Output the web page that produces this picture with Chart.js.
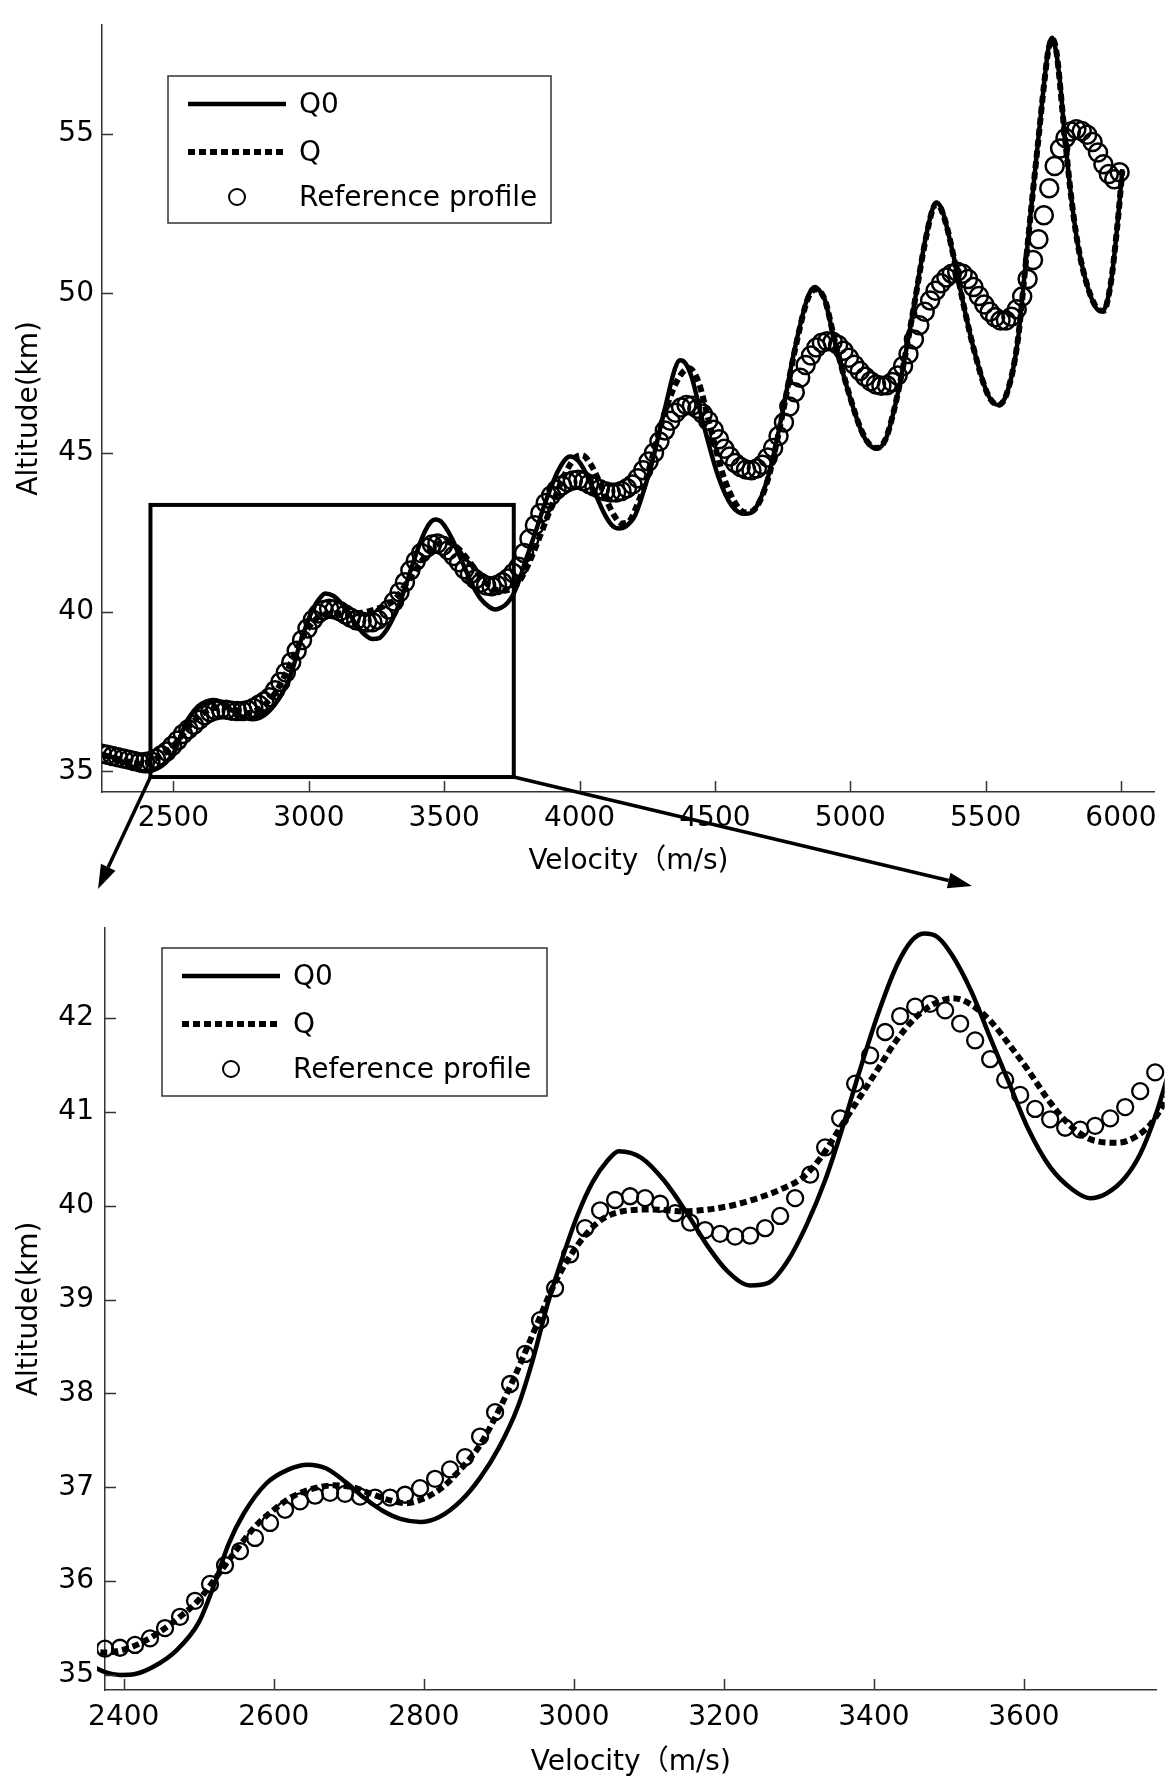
<!DOCTYPE html>
<html>
<head>
<meta charset="utf-8">
<script src="https://cdn.jsdelivr.net/npm/chart.js@4.4.0/dist/chart.umd.min.js"></script>
<style>
  html, body { margin: 0; padding: 0; background: #fff; }
  canvas { display: block; }
</style>
</head>
<body>
<canvas id="overview" width="1167" height="900"></canvas>
<canvas id="detail" width="1167" height="879"></canvas>
<script>
// Q0 trajectory (solid)
const q0Velocity = [
  2236, 2280, 2320, 2350, 2375, 2395, 2415, 2440, 2470, 2500,
  2520, 2540, 2560, 2590, 2620, 2645, 2670, 2695, 2720, 2745,
  2770, 2795, 2820, 2850, 2875, 2900, 2925, 2945, 2965, 2985,
  3005, 3025, 3045, 3060, 3090, 3120, 3150, 3180, 3205, 3235,
  3260, 3285, 3310, 3335, 3355, 3380, 3405, 3430, 3450, 3467,
  3485, 3505, 3530, 3555, 3580, 3605, 3635, 3665, 3688, 3710,
  3735, 3755, 3775, 3800, 3837, 3874, 3923, 3965, 3995, 4021,
  4046, 4095, 4120, 4145, 4170, 4205, 4237, 4267, 4316, 4353,
  4371, 4390, 4415, 4451, 4512, 4562, 4612, 4648, 4697, 4746,
  4795, 4844, 4869, 4890, 4906, 4943, 4992, 5040, 5070, 5099,
  5130, 5164, 5201, 5237, 5274, 5305, 5317, 5335, 5348, 5385,
  5422, 5459, 5508, 5545, 5581, 5618, 5643, 5667, 5692, 5717,
  5732, 5745, 5760, 5775, 5790, 5815, 5840, 5876, 5913, 5932,
  5962, 5985, 6005
];
const q0Altitude = [
  35.55, 35.42, 35.27, 35.13, 35.03, 35.00, 35.01, 35.09, 35.26, 35.56,
  35.95, 36.40, 36.72, 37.04, 37.19, 37.24, 37.20, 37.06, 36.89, 36.75,
  36.66, 36.63, 36.68, 36.86, 37.10, 37.42, 37.85, 38.35, 38.95, 39.45,
  39.90, 40.25, 40.48, 40.58, 40.51, 40.27, 39.93, 39.55, 39.30, 39.15,
  39.18, 39.41, 39.79, 40.27, 40.75, 41.41, 42.03, 42.55, 42.82, 42.90,
  42.86, 42.66, 42.28, 41.79, 41.31, 40.83, 40.41, 40.17, 40.08, 40.13,
  40.30, 40.55, 40.95, 41.60, 42.50, 43.45, 44.47, 44.88, 44.75, 44.40,
  43.95, 43.03, 42.72, 42.62, 42.68, 43.03, 43.80, 44.67, 46.41, 47.65,
  47.90, 47.82, 47.35, 46.11, 44.26, 43.34, 43.08, 43.23, 44.26, 46.11,
  48.26, 49.90, 50.20, 50.05, 49.80, 48.47, 46.93, 45.70, 45.25, 45.13,
  45.40, 46.42, 47.96, 49.70, 51.55, 52.68, 52.85, 52.70, 52.37, 51.03,
  49.50, 48.16, 46.83, 46.50, 46.93, 48.47, 50.52, 52.58, 54.63, 56.68,
  57.70, 58.02, 57.60, 56.60, 55.15, 53.10, 51.56, 50.23, 49.50, 49.45,
  50.30, 52.00, 53.90
];

// Q trajectory (dotted)
const qVelocity = [
  2236, 2290, 2340, 2375, 2400, 2425, 2450, 2475, 2500, 2525,
  2550, 2575, 2600, 2625, 2650, 2680, 2705, 2730, 2755, 2775,
  2800, 2825, 2850, 2875, 2900, 2925, 2950, 2975, 3005, 3035,
  3065, 3105, 3145, 3180, 3215, 3245, 3275, 3305, 3330, 3355,
  3380, 3405, 3430, 3455, 3480, 3505, 3530, 3555, 3580, 3605,
  3635, 3665, 3695, 3725, 3750, 3770, 3800, 3850, 3900, 3950,
  3985, 4010, 4040, 4070, 4100, 4130, 4155, 4180, 4210, 4240,
  4270, 4320, 4370, 4405, 4440, 4480, 4530, 4580, 4615, 4650,
  4697, 4746, 4795, 4844, 4872, 4906, 4943, 4992, 5040, 5070,
  5100, 5130, 5164, 5201, 5237, 5274, 5305, 5320, 5348, 5385,
  5422, 5459, 5508, 5548, 5581, 5618, 5643, 5667, 5692, 5717,
  5732, 5747, 5762, 5790, 5815, 5840, 5876, 5913, 5935, 5962,
  5985, 6005
];
const qAltitude = [
  35.52, 35.40, 35.29, 35.24, 35.27, 35.35, 35.47, 35.62, 35.80, 36.06,
  36.33, 36.58, 36.76, 36.90, 36.98, 37.02, 37.00, 36.93, 36.86, 36.83,
  36.88, 37.00, 37.20, 37.45, 37.82, 38.25, 38.72, 39.18, 39.58, 39.84,
  39.94, 39.96, 39.94, 39.96, 40.01, 40.08, 40.17, 40.30, 40.52, 40.83,
  41.14, 41.45, 41.76, 42.00, 42.15, 42.21, 42.14, 41.97, 41.72, 41.45,
  41.10, 40.83, 40.69, 40.67, 40.74, 40.88, 41.30, 42.30, 43.40, 44.40,
  44.85, 44.92, 44.65, 44.15, 43.50, 43.00, 42.78, 42.82, 43.30, 44.00,
  44.90, 46.40, 47.40, 47.65, 47.20, 45.90, 44.30, 43.35, 43.12, 43.25,
  44.20, 46.05, 48.20, 49.85, 50.12, 49.80, 48.50, 46.95, 45.72, 45.27,
  45.15, 45.42, 46.42, 47.96, 49.68, 51.50, 52.65, 52.82, 52.35, 51.03,
  49.50, 48.16, 46.83, 46.50, 46.93, 48.47, 50.50, 52.55, 54.60, 56.65,
  57.65, 57.98, 57.55, 55.15, 53.10, 51.56, 50.23, 49.52, 49.45, 50.30,
  52.00, 53.85
];

// Reference profile (circles)
const refVelocity = [
  2235, 2255, 2275, 2295, 2315, 2335, 2355, 2375, 2395, 2415,
  2435, 2455, 2475, 2495, 2515, 2535, 2555, 2575, 2595, 2615,
  2635, 2655, 2675, 2695, 2715, 2735, 2755, 2775, 2795, 2815,
  2835, 2855, 2875, 2895, 2915, 2935, 2955, 2975, 2995, 3015,
  3035, 3055, 3075, 3095, 3115, 3135, 3155, 3175, 3195, 3215,
  3235, 3255, 3275, 3295, 3315, 3335, 3355, 3375, 3395, 3415,
  3435, 3455, 3475, 3495, 3515, 3535, 3555, 3575, 3595, 3615,
  3635, 3655, 3675, 3695, 3715, 3735, 3755, 3775, 3795, 3815,
  3835, 3855, 3875, 3895, 3915, 3935, 3955, 3975, 3995, 4015,
  4035, 4055, 4075, 4095, 4115, 4135, 4155, 4175, 4195, 4215,
  4235, 4255, 4275, 4295, 4315, 4335, 4355, 4375, 4395, 4415,
  4435, 4455, 4475, 4495, 4515, 4535, 4555, 4575, 4595, 4615,
  4635, 4655, 4675, 4695, 4715, 4735, 4755, 4775, 4795, 4815,
  4835, 4855, 4875, 4895, 4915, 4935, 4955, 4975, 4995, 5015,
  5035, 5055, 5075, 5095, 5115, 5135, 5155, 5175, 5195, 5215,
  5235, 5255, 5275, 5295, 5315, 5335, 5355, 5375, 5395, 5415,
  5435, 5455, 5475, 5495, 5515, 5535, 5555, 5575, 5595, 5615,
  5635, 5655, 5675, 5695, 5715, 5735, 5755, 5775, 5795, 5815,
  5835, 5855, 5875, 5895, 5915, 5935, 5955, 5975, 5995
];
const refAltitude = [
  35.55, 35.52, 35.48, 35.44, 35.40, 35.36, 35.32, 35.28, 35.29, 35.32,
  35.39, 35.50, 35.62, 35.79, 35.97, 36.17, 36.32, 36.46, 36.62, 36.76,
  36.85, 36.91, 36.94, 36.93, 36.90, 36.89, 36.89, 36.92, 36.99, 37.09,
  37.19, 37.32, 37.54, 37.80, 38.10, 38.42, 38.78, 39.12, 39.48, 39.76,
  39.95, 40.06, 40.10, 40.08, 40.02, 39.92, 39.82, 39.74, 39.70, 39.67,
  39.68, 39.76, 39.89, 40.08, 40.33, 40.62, 40.93, 41.30, 41.60, 41.85,
  42.02, 42.12, 42.15, 42.08, 41.94, 41.76, 41.56, 41.34, 41.18, 41.03,
  40.92, 40.83, 40.81, 40.85, 40.93, 41.05, 41.22, 41.42, 41.85, 42.30,
  42.72, 43.10, 43.42, 43.66, 43.84, 43.97, 44.07, 44.13, 44.15, 44.10,
  44.02, 43.93, 43.85, 43.79, 43.75, 43.75, 43.80, 43.88, 44.00, 44.20,
  44.45, 44.72, 45.00, 45.35, 45.70, 46.00, 46.25, 46.42, 46.50, 46.47,
  46.38, 46.22, 46.00, 45.72, 45.42, 45.12, 44.88, 44.68, 44.55, 44.47,
  44.45, 44.50, 44.62, 44.85, 45.15, 45.52, 45.95, 46.45, 46.90, 47.35,
  47.75, 48.05, 48.30, 48.45, 48.50, 48.48, 48.38, 48.20, 47.98, 47.76,
  47.56, 47.38, 47.24, 47.14, 47.10, 47.12, 47.22, 47.42, 47.72, 48.10,
  48.55, 49.00, 49.42, 49.78, 50.08, 50.32, 50.50, 50.62, 50.68, 50.62,
  50.45, 50.20, 49.92, 49.65, 49.42, 49.25, 49.15, 49.15, 49.27, 49.50,
  49.90, 50.45, 51.05, 51.70, 52.45, 53.30, 54.00, 54.55, 54.88, 55.08,
  55.15, 55.10, 54.98, 54.75, 54.42, 54.05, 53.75, 53.58, 53.80
];

// tick labels
const overviewVelocityTicks = [2500, 3000, 3500, 4000, 4500, 5000, 5500, 6000];
const overviewAltitudeTicks = [35, 40, 45, 50, 55];
const detailVelocityTicks = [2400, 2600, 2800, 3000, 3200, 3400, 3600];
const detailAltitudeTicks = [35, 36, 37, 38, 39, 40, 41, 42];

// zoomed window marked on the overview
const zoomBoxVelocity = [2415, 3757];
const zoomBoxAltitude = [34.82, 43.36];

const axisColor = '#333';
const fontFamily = '"DejaVu Sans", "Noto Sans CJK SC", sans-serif';
Chart.defaults.font.family = fontFamily;
Chart.defaults.font.size = 28;
Chart.defaults.color = '#000';

function seriesPoints(xs, ys) {
  return xs.map((v, i) => ({ x: v, y: ys[i] }));
}

function makeDatasets(markerRadius, markerBorder, clip) {
  return [
    {
      label: 'Q0',
      data: seriesPoints(q0Velocity, q0Altitude),
      borderColor: '#000',
      borderWidth: 4.5,
      pointRadius: 0,
      cubicInterpolationMode: 'monotone',
      fill: false,
      clip: clip,
      order: 3
    },
    {
      label: 'Q',
      data: seriesPoints(qVelocity, qAltitude),
      borderColor: '#000',
      borderWidth: 6,
      borderDash: [7, 4],
      borderCapStyle: 'butt',
      pointRadius: 0,
      cubicInterpolationMode: 'monotone',
      fill: false,
      clip: clip,
      order: 2
    },
    {
      label: 'Reference profile',
      data: seriesPoints(refVelocity, refAltitude),
      showLine: false,
      pointStyle: 'circle',
      pointRadius: markerRadius,
      pointBorderWidth: markerBorder,
      pointBorderColor: '#000',
      pointBackgroundColor: 'rgba(0,0,0,0)',
      clip: clip,
      order: 1
    }
  ];
}

// MATLAB-style ticks pointing into the plot
const inwardTicks = {
  id: 'inwardTicks',
  afterDraw(chart) {
    const { ctx, chartArea, scales } = chart;
    const len = 11;
    ctx.save();
    ctx.strokeStyle = axisColor;
    ctx.lineWidth = 1.5;
    scales.x.ticks.forEach(t => {
      const px = Math.round(scales.x.getPixelForValue(t.value)) + 0.5;
      ctx.beginPath();
      ctx.moveTo(px, chartArea.bottom);
      ctx.lineTo(px, chartArea.bottom - len);
      ctx.stroke();
    });
    scales.y.ticks.forEach(t => {
      const py = Math.round(scales.y.getPixelForValue(t.value)) + 0.5;
      ctx.beginPath();
      ctx.moveTo(chartArea.left, py);
      ctx.lineTo(chartArea.left + len, py);
      ctx.stroke();
    });
    ctx.restore();
  }
};

// boxed legend inside the plot
const boxLegend = {
  id: 'boxLegend',
  afterDraw(chart, args, opts) {
    if (!opts || opts.left === undefined) return;
    const { ctx } = chart;
    const ds = chart.data.datasets;
    const rows = [28, 76, 121];
    ctx.save();
    ctx.fillStyle = '#fff';
    ctx.fillRect(opts.left, opts.top, opts.width, opts.height);
    ctx.strokeStyle = axisColor;
    ctx.lineWidth = 1.5;
    ctx.strokeRect(opts.left, opts.top, opts.width, opts.height);
    ctx.font = '28px ' + fontFamily;
    ctx.textBaseline = 'middle';
    ctx.fillStyle = '#000';
    ds.forEach((d, i) => {
      const y = opts.top + rows[i];
      ctx.strokeStyle = '#000';
      if (d.showLine === false) {
        ctx.lineWidth = 2;
        ctx.beginPath();
        ctx.arc(opts.left + 69, y, 8, 0, Math.PI * 2);
        ctx.stroke();
      } else {
        ctx.lineWidth = d.borderWidth;
        ctx.lineCap = 'butt';
        ctx.setLineDash(d.borderDash || []);
        ctx.beginPath();
        ctx.moveTo(opts.left + 20, y);
        ctx.lineTo(opts.left + 118, y);
        ctx.stroke();
        ctx.setLineDash([]);
      }
      ctx.fillText(d.label, opts.left + 131, y + 2);
    });
    ctx.restore();
  }
};

function drawArrow(ctx, x0, y0, x1, y1) {
  const ang = Math.atan2(y1 - y0, x1 - x0);
  const head = 24, half = 8;
  const bx = x1 - head * Math.cos(ang), by = y1 - head * Math.sin(ang);
  ctx.beginPath();
  ctx.moveTo(x0, y0);
  ctx.lineTo(bx, by);
  ctx.stroke();
  ctx.beginPath();
  ctx.moveTo(x1, y1);
  ctx.lineTo(bx + half * Math.sin(ang), by - half * Math.cos(ang));
  ctx.lineTo(bx - half * Math.sin(ang), by + half * Math.cos(ang));
  ctx.closePath();
  ctx.fill();
}

// rectangle around the zoomed window plus arrows to the detail plot
const zoomMarker = {
  id: 'zoomMarker',
  afterDraw(chart, args, opts) {
    if (!opts || !opts.leftTip) return;
    const { ctx, scales: { x, y } } = chart;
    const l = x.getPixelForValue(zoomBoxVelocity[0]);
    const r = x.getPixelForValue(zoomBoxVelocity[1]);
    const t = y.getPixelForValue(zoomBoxAltitude[1]);
    const b = y.getPixelForValue(zoomBoxAltitude[0]);
    ctx.save();
    ctx.strokeStyle = '#000';
    ctx.fillStyle = '#000';
    ctx.lineWidth = 4;
    ctx.strokeRect(l, t, r - l, b - t);
    ctx.lineWidth = 3.5;
    drawArrow(ctx, l, b, opts.leftTip[0], opts.leftTip[1]);
    drawArrow(ctx, r, b, opts.rightTip[0], opts.rightTip[1]);
    ctx.restore();
  }
};

function makeOptions(cfg) {
  return {
    responsive: false,
    animation: false,
    events: [],
    layout: { padding: { top: cfg.padTop, right: cfg.padRight, left: 0, bottom: 0 } },
    plugins: {
      legend: { display: false },
      tooltip: { enabled: false },
      boxLegend: cfg.legend,
      zoomMarker: cfg.marker || {}
    },
    scales: {
      x: {
        type: 'linear',
        min: cfg.xMin,
        max: cfg.xMax,
        grid: { display: false, drawTicks: false },
        border: { display: true, color: axisColor, width: 1.5 },
        ticks: { padding: cfg.xTickPad, color: '#000', maxRotation: 0, autoSkip: false, callback: v => String(v) },
        afterBuildTicks: s => { s.ticks = cfg.xTicks.map(v => ({ value: v })); },
        afterFit: s => { s.height = cfg.xAxisHeight; },
        title: {
          display: true,
          text: 'Velocity（m/s)',
          color: '#000',
          font: { size: 28, lineHeight: 1 },
          padding: { top: 0, bottom: cfg.xTitlePad }
        }
      },
      y: {
        type: 'linear',
        min: cfg.yMin,
        max: cfg.yMax,
        grid: { display: false, drawTicks: false },
        border: { display: true, color: axisColor, width: 1.5 },
        ticks: { padding: cfg.yTickPad, color: '#000', autoSkip: false, callback: v => String(v) },
        afterBuildTicks: s => { s.ticks = cfg.yTicks.map(v => ({ value: v })); },
        afterFit: s => { s.width = cfg.yAxisWidth; },
        title: {
          display: true,
          text: 'Altitude(km)',
          color: '#000',
          font: { size: 28, lineHeight: 1 },
          padding: { top: 16, bottom: 0 }
        }
      }
    }
  };
}

new Chart(document.getElementById('overview'), {
  type: 'line',
  data: { datasets: makeDatasets(9, 2.5, undefined) },
  options: makeOptions({
    padTop: 10, padRight: 9,
    xMin: 2236, xMax: 6125, yMin: 34.35, yMax: 58.43,
    xTicks: overviewVelocityTicks, yTicks: overviewAltitudeTicks,
    xAxisHeight: 108, yAxisWidth: 102,
    xTickPad: 10, yTickPad: 8, xTitlePad: 24,
    legend: { left: 168, top: 76, width: 383, height: 147 },
    marker: { leftTip: [98, 889], rightTip: [972, 886] }
  }),
  plugins: [inwardTicks, boxLegend, zoomMarker]
});

new Chart(document.getElementById('detail'), {
  type: 'line',
  data: { datasets: makeDatasets(8, 2.3, 8) },
  options: makeOptions({
    padTop: 7, padRight: 6,
    xMin: 2375, xMax: 3777, yMin: 34.84, yMax: 42.96,
    xTicks: detailVelocityTicks, yTicks: detailAltitudeTicks,
    xAxisHeight: 89, yAxisWidth: 105,
    xTickPad: 11, yTickPad: 11, xTitlePad: 2,
    legend: { left: 162, top: 48, width: 385, height: 148 }
  }),
  plugins: [inwardTicks, boxLegend]
});
</script>
</body>
</html>
